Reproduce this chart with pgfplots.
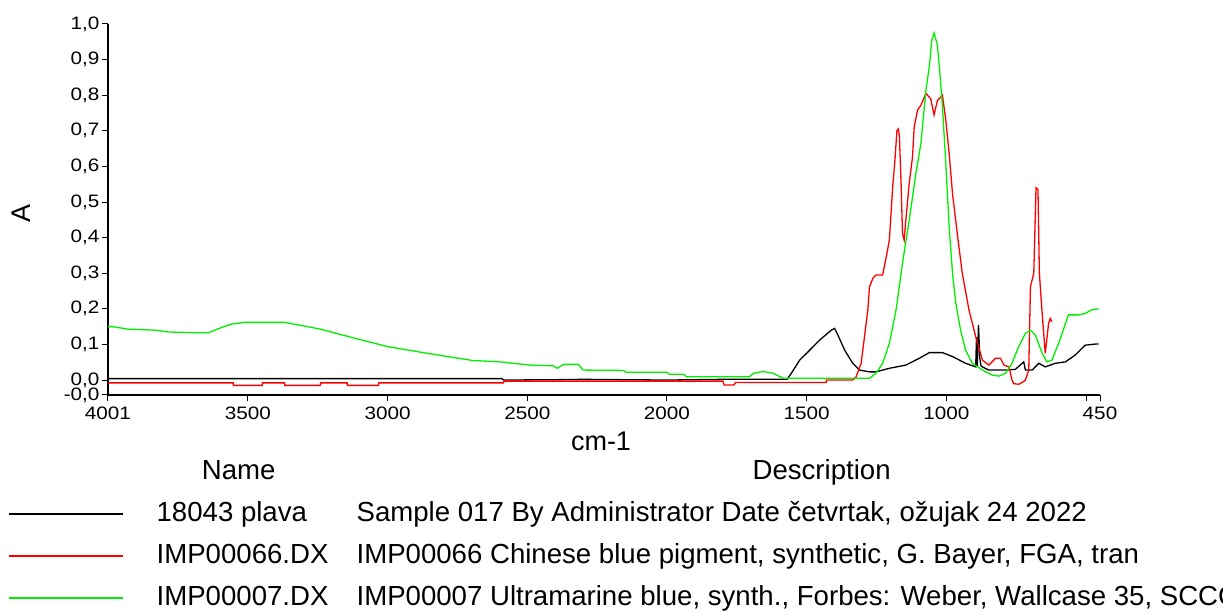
\documentclass[border=0pt]{standalone}
\usepackage{pgfplots}
\pgfplotsset{compat=1.18}
\usepackage{fontspec}
\setmainfont{Liberation Sans}
\newfontfamily\tickfont[FakeStretch=1.15]{Liberation Sans}
\definecolor{lime}{RGB}{0,240,0}
\definecolor{pred}{RGB}{255,0,0}
\begin{document}
\begin{tikzpicture}[x=1pt,y=1pt]
\begin{axis}[
  at={(108pt,217pt)}, anchor=south west,
  scale only axis, width=992pt, height=371pt,
  x dir=reverse, xmin=450, xmax=4001,
  ymin=-0.042, ymax=1.0,
  axis x line*=bottom, axis y line*=left,
  x axis line style={-, line width=1.2pt},
  y axis line style={-, line width=1.2pt},
  tick align=outside, major tick length=6pt,
  tick style={black, line width=1pt},
  xtick={4001,3500,3000,2500,2000,1500,1000,500,450},
  xticklabels={4001,3500,3000,2500,2000,1500,1000,,450},
  ytick={-0.042,0,0.1,0.2,0.3,0.4,0.5,0.6,0.7,0.8,0.9,1.0},
  yticklabels={{-0,0},{0,0},{0,1},{0,2},{0,3},{0,4},{0,5},{0,6},{0,7},{0,8},{0,9},{1,0}},
  ticklabel style={font=\tickfont\fontsize{18}{18}\selectfont},
  yticklabel style={xshift=1pt},
  xticklabel style={yshift=-2pt},
  xlabel={cm-1}, ylabel={A},
  label style={font=\fontsize{27}{27}\selectfont},
  xlabel style={at={(axis description cs:0.497,-0.124)}, anchor=center},
  ylabel style={at={(axis description cs:-0.087,0.49)}, anchor=center},
  clip=false,
  legend image code/.code={\draw[#1, line width=1.6pt] (0pt,0pt) -- (114pt,0pt); \path (147pt,0pt);},
  legend style={at={(axis description cs:-0.1008,-0.172)}, anchor=north west,
    draw=none, fill=none, inner sep=0pt, row sep=16pt, column sep=0pt,
    font=\fontsize{27.6}{27.6}\selectfont,
    nodes={inner sep=0pt, text height=20pt, text depth=6pt, anchor=west}},
  legend cell align=left,
]
\addlegendimage{empty legend}
\addlegendentry{\makebox[164pt][c]{Name}\hspace{36pt}\makebox[0pt][l]{\hspace{465pt}\makebox[0pt][c]{Description}}}

\addplot[black, line width=1.3pt] coordinates {
(4001,0.004) (2590,0.004) (2585,0.000) (2400,0.001) (2300,0.002) (2000,0.000) (1800,0.002) (1570,0.002)
(1555,0.019) (1525,0.056) (1489,0.084) (1454,0.112) (1412,0.140) (1400,0.145) (1388,0.126)
(1364,0.084) (1335,0.047) (1311,0.028) (1275,0.023) (1252,0.023) (1204,0.033) (1145,0.042)
(1097,0.061) (1061,0.077) (1014,0.077) (978,0.066) (931,0.047) (895,0.037) (892,0.120)
(889,0.040) (885,0.155) (880,0.060) (876,0.040) (871,0.037) (848,0.028) (788,0.028)
(753,0.030) (723,0.051) (717,0.028) (693,0.028) (669,0.047) (646,0.037) (610,0.047)
(574,0.051) (539,0.070) (503,0.098) (467,0.101) (455,0.101)
};
\addlegendentry{\makebox[200pt][l]{18043 plava}Sample 017 By Administrator Date četvrtak, ožujak 24 2022}

\addplot[pred, line width=1.3pt] coordinates {
(4001,-0.008) (3553,-0.008) (3552,-0.015) (3449,-0.015) (3448,-0.008) (3369,-0.008)
(3368,-0.015) (3241,-0.015) (3240,-0.008) (3145,-0.008) (3144,-0.015) (3033,-0.015)
(3032,-0.008) (2585,-0.008) (2584,-0.003) (1800,-0.003) (1795,-0.014) (1760,-0.014)
(1755,-0.007) (1430,-0.007) (1429,0.000) (1335,0.000) (1323,0.009) (1305,0.047)
(1293,0.122) (1281,0.197) (1275,0.262) (1263,0.286) (1252,0.295) (1228,0.295)
(1216,0.342) (1204,0.393) (1192,0.543) (1184,0.618) (1177,0.700) (1172,0.705)
(1168,0.684) (1162,0.552) (1157,0.412) (1151,0.393) (1145,0.449) (1133,0.552)
(1121,0.627) (1115,0.712) (1103,0.758) (1091,0.772) (1073,0.805) (1056,0.790)
(1044,0.745) (1032,0.785) (1014,0.800) (1002,0.730) (990,0.637) (978,0.524)
(961,0.412) (943,0.300) (919,0.197) (895,0.122) (871,0.056) (848,0.042) (824,0.061)
(806,0.061) (794,0.042) (776,0.037) (765,0.000) (759,-0.010) (741,-0.012) (725,-0.005)
(717,0.000) (705,0.028) (699,0.262) (687,0.300) (679,0.540) (672,0.535) (667,0.300)
(657,0.187) (646,0.075) (634,0.159) (628,0.173) (622,0.164)
};
\addlegendentry{\makebox[200pt][l]{IMP00066.DX}IMP00066 Chinese blue pigment, synthetic, G. Bayer, FGA, tran}

\addplot[lime, line width=1.3pt] coordinates {
(4001,0.150) (3985,0.150) (3930,0.143) (3830,0.140) (3785,0.135) (3700,0.133) (3640,0.133)
(3610,0.143) (3560,0.157) (3513,0.162) (3370,0.162) (3321,0.155) (3241,0.143) (3145,0.123)
(3001,0.094) (2857,0.075) (2697,0.055) (2598,0.051) (2551,0.047) (2490,0.042) (2407,0.040)
(2393,0.033) (2370,0.044) (2318,0.044) (2300,0.028) (2157,0.027) (2145,0.022) (2001,0.022)
(1990,0.016) (1940,0.016) (1930,0.009) (1705,0.009) (1690,0.019) (1656,0.024) (1620,0.019)
(1600,0.011) (1584,0.005) (1275,0.005) (1252,0.019) (1228,0.047) (1204,0.103) (1180,0.197)
(1157,0.328) (1133,0.449) (1109,0.580) (1091,0.665) (1073,0.815) (1061,0.880) (1052,0.955)
(1044,0.975) (1032,0.941) (1024,0.871) (1014,0.768) (1002,0.609) (990,0.431) (978,0.300)
(966,0.215) (949,0.140) (931,0.084) (907,0.047) (871,0.028) (836,0.014) (812,0.011)
(788,0.019) (765,0.047) (741,0.094) (717,0.131) (699,0.140) (681,0.126) (657,0.075)
(640,0.051) (622,0.056) (598,0.103) (563,0.183) (527,0.183) (503,0.187) (480,0.197) (455,0.200)
};
\addlegendentry{\makebox[200pt][l]{IMP00007.DX}IMP00007 Ultramarine blue, synth., Forbes: Weber, Wallcase 35, SCCC}
\end{axis}
\pgfresetboundingbox
\path (0pt,0pt) rectangle (1223pt,612pt);
\end{tikzpicture}
\end{document}
